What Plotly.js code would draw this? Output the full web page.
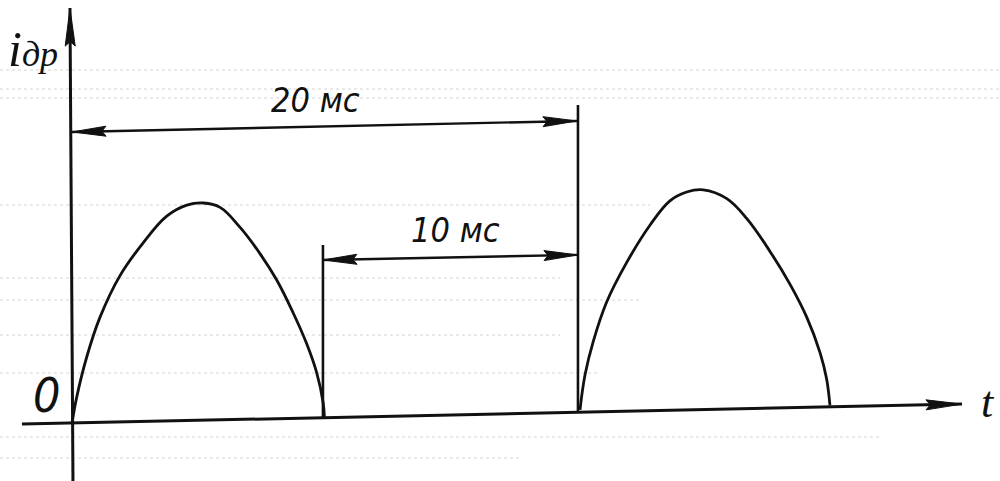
<!DOCTYPE html>
<html>
<head>
<meta charset="utf-8">
<script src="https://cdn.plot.ly/plotly-3.0.1.min.js"></script>
<style>html,body{margin:0;padding:0;background:#fff;}#chart{width:1000px;height:481px;}</style>
</head>
<body>
<div id="chart"></div>
<script>
// ---- data (t in ms, i in relative units) ----
const pulse1T = [0, 0.19, 0.58, 1.10, 1.89, 2.81, 3.73, 4.52, 5.17, 5.83, 6.61, 7.40, 8.06, 8.71, 9.24, 9.63, 9.89, 9.94];
const pulse1I = [0, 0.12, 0.30, 0.48, 0.67, 0.82, 0.94, 0.99, 1.00, 0.98, 0.89, 0.77, 0.65, 0.50, 0.36, 0.23, 0.09, 0.02];
const pulse2T = [20.0, 20.20, 20.52, 21.05, 21.84, 22.76, 23.54, 24.20, 24.85, 25.78, 26.56, 27.48, 28.27, 28.93, 29.45, 29.71, 29.84];
const pulse2I = [0.06, 0.22, 0.37, 0.55, 0.73, 0.90, 1.01, 1.05, 1.06, 1.02, 0.93, 0.78, 0.63, 0.48, 0.32, 0.20, 0.08];

const timeAxisT = [-1.97, 35.04];
const timeAxisI = [-0.005, 0.086];
const currentAxisT = [0.04, -0.08];
const currentAxisI = [-0.30, 1.886];

const dim20T = [0, 19.88];
const dim20I = [1.323, 1.373];
const ext20T = [19.92, 19.92];
const ext20I = [0.055, 1.445];
const dim10T = [9.88, 19.92];
const dim10I = [0.741, 0.764];
const ext10T = [9.88, 9.88];
const ext10I = [0.023, 0.809];

const dimLabels = ["20 мс", "10 мс"];
const axisLabelY = "i<span style=\"font-size:36px\">др</span>";
const axisLabelX = "t";
const originLabel = "0";

// ---- scale (layout) ----
const W = 1000, H = 481;
const PX0 = 72, PXMS = 25.4, PY0 = 423, PYU = 220;
const xRange = [(0 - PX0) / PXMS, (W - PX0) / PXMS];
const yRange = [(PY0 - H) / PYU, PY0 / PYU];
const toPx = (t, i) => [PX0 + t * PXMS, PY0 - i * PYU];
const toData = (px, py) => [(px - PX0) / PXMS, (PY0 - py) / PYU];

const INK = '#111111';
const traces = [];
function line(xs, ys, w) {
  traces.push({x: xs, y: ys, mode: 'lines', line: {color: INK, width: w}, hoverinfo: 'skip', showlegend: false});
}
function head(tipT, tipI, fromT, fromI, len, half) {
  const [tx, ty] = toPx(tipT, tipI);
  const [fx, fy] = toPx(fromT, fromI);
  const d = Math.hypot(tx - fx, ty - fy);
  const ux = (tx - fx) / d, uy = (ty - fy) / d;
  const bx = tx - ux * len, by = ty - uy * len;
  const nx = -uy, ny = ux;
  const pts = [[tx, ty], [bx + nx * half, by + ny * half], [bx + ux * len * 0.12, by + uy * len * 0.12], [bx - nx * half, by - ny * half], [tx, ty]];
  const dp = pts.map(p => toData(p[0], p[1]));
  traces.push({x: dp.map(p => p[0]), y: dp.map(p => p[1]), mode: 'lines', fill: 'toself', fillcolor: INK,
    line: {color: INK, width: 1}, hoverinfo: 'skip', showlegend: false});
}

// axes
line(timeAxisT, timeAxisI, 3);
head(timeAxisT[1], timeAxisI[1], timeAxisT[0], timeAxisI[0], 36, 5);
line(currentAxisT, currentAxisI, 3);
head(currentAxisT[1], currentAxisI[1], currentAxisT[0], currentAxisI[0], 38, 5);

// current pulses
[[pulse1T, pulse1I], [pulse2T, pulse2I]].forEach(([xs, ys]) => {
  traces.push({x: xs, y: ys, mode: 'lines', line: {color: INK, width: 2.8, shape: 'spline', smoothing: 1.1},
    hoverinfo: 'skip', showlegend: false});
});

// dimension lines
line(dim20T, dim20I, 2.4);
head(dim20T[0], dim20I[0], dim20T[1], dim20I[1], 34, 5);
head(dim20T[1], dim20I[1], dim20T[0], dim20I[0], 34, 5);
line(ext20T, ext20I, 2.6);
line(dim10T, dim10I, 2.4);
head(dim10T[0], dim10I[0], dim10T[1], dim10I[1], 34, 5);
head(dim10T[1], dim10I[1], dim10T[0], dim10I[0], 34, 5);
line(ext10T, ext10I, 2.6);

// faint ruled-paper show-through (decoration, paper coords)
const ruleY = [70, 89, 98, 205, 278, 300, 335, 373, 437, 458];
const ruleX1 = [1000, 1000, 1000, 650, 560, 640, 560, 600, 880, 520];
const shapes = ruleY.map((y, k) => ({type: 'line', xref: 'paper', yref: 'paper',
  x0: 0, x1: ruleX1[k] / W, y0: 1 - y / H, y1: 1 - y / H,
  line: {color: '#d4d4d4', width: 1, dash: 'dot'}, layer: 'below'}));

const drawFont = {family: '"DejaVu Sans Condensed", "Liberation Sans Narrow", sans-serif', color: INK, style: 'italic'};
const annotations = [
  {text: dimLabels[0], x: 9.57, y: 1.468, font: Object.assign({}, drawFont, {size: 34})},
  {text: dimLabels[1], x: 15.08, y: 0.878, font: Object.assign({}, drawFont, {size: 34})},
  {text: originLabel, x: -1.0, y: 0.127, font: Object.assign({}, drawFont, {size: 48})},
  {text: axisLabelX, x: 36.06, y: 0.095, font: Object.assign({}, drawFont, {size: 44, family: '"Liberation Serif", serif'})},
  {text: axisLabelY, x: -1.54, y: 1.70, font: {family: '"Liberation Serif", serif', size: 50, color: INK, style: 'italic'}}
].map(a => Object.assign({xref: 'x', yref: 'y', showarrow: false, xanchor: 'center', yanchor: 'middle'}, a));

const layout = {
  width: W, height: H,
  margin: {l: 0, r: 0, t: 0, b: 0},
  paper_bgcolor: '#ffffff', plot_bgcolor: '#ffffff',
  xaxis: {range: xRange, visible: false, fixedrange: true},
  yaxis: {range: yRange, visible: false, fixedrange: true},
  showlegend: false,
  shapes: shapes,
  annotations: annotations
};
Plotly.newPlot('chart', traces, layout, {staticPlot: true, displayModeBar: false});
</script>
</body>
</html>
